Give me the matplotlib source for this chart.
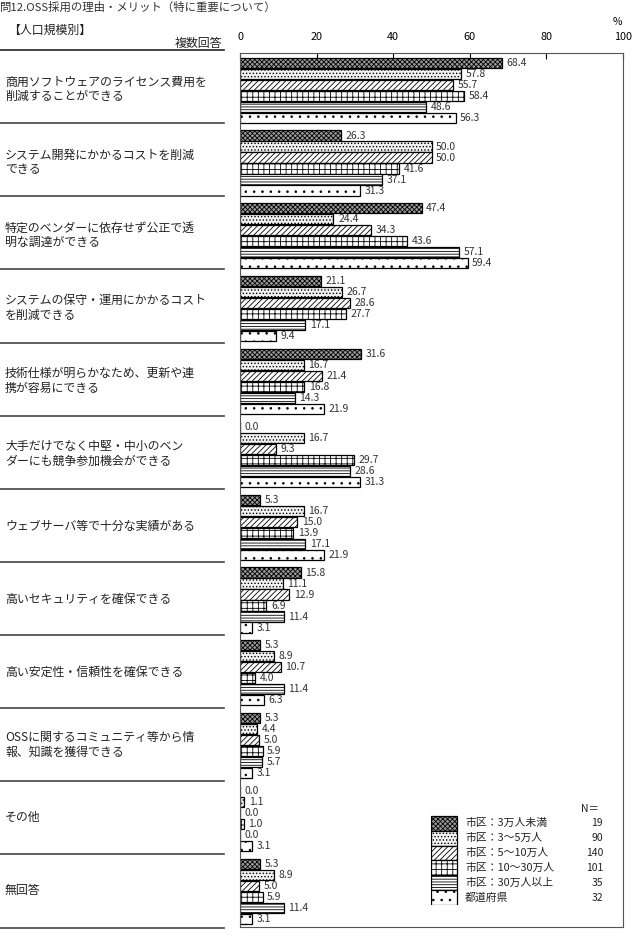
import matplotlib
matplotlib.use('Agg')
import matplotlib.pyplot as plt
import numpy as np

plt.rcParams['font.family'] = ['Noto Sans CJK JP', 'DejaVu Sans']
plt.rcParams['hatch.linewidth'] = 0.6

# 項目
items = [
    '商用ソフトウェアのライセンス費用を\n削減することができる',
    'システム開発にかかるコストを削減\nできる',
    '特定のベンダーに依存せず公正で透\n明な調達ができる',
    'システムの保守・運用にかかるコスト\nを削減できる',
    '技術仕様が明らかなため、更新や連\n携が容易にできる',
    '大手だけでなく中堅・中小のベン\nダーにも競争参加機会ができる',
    'ウェブサーバ等で十分な実績がある',
    '高いセキュリティを確保できる',
    '高い安定性・信頼性を確保できる',
    'OSSに関するコミュニティ等から情\n報、知識を獲得できる',
    'その他',
    '無回答',
]

groups = ['市区：3万人未満', '市区：3～5万人', '市区：5～10万人',
          '市区：10～30万人', '市区：30万人以上', '都道府県']
n_counts = [19, 90, 140, 101, 35, 32]

# 各グループの値 (%)
v_under3 = [68.4, 26.3, 47.4, 21.1, 31.6, 0.0, 5.3, 15.8, 5.3, 5.3, 0.0, 5.3]
v_3to5 = [57.8, 50.0, 24.4, 26.7, 16.7, 16.7, 16.7, 11.1, 8.9, 4.4, 1.1, 8.9]
v_5to10 = [55.7, 50.0, 34.3, 28.6, 21.4, 9.3, 15.0, 12.9, 10.7, 5.0, 0.0, 5.0]
v_10to30 = [58.4, 41.6, 43.6, 27.7, 16.8, 29.7, 13.9, 6.9, 4.0, 5.9, 1.0, 5.9]
v_over30 = [48.6, 37.1, 57.1, 17.1, 14.3, 28.6, 17.1, 11.4, 11.4, 5.7, 0.0, 11.4]
v_pref = [56.3, 31.3, 59.4, 9.4, 21.9, 31.3, 21.9, 3.1, 6.3, 3.1, 3.1, 3.1]
series = [v_under3, v_3to5, v_5to10, v_10to30, v_over30, v_pref]

# 塗りつぶし(ハッチ)
faces = ['#9a9a9a', '#f2f2f2', 'white', 'white', 'white', 'white']
hatches = ['xxxxxxx', '.....', '//////', '+++', '------', '..']

W, H = 637, 939
fig = plt.figure(figsize=(W / 100, H / 100), dpi=100)

top, bot = 53, 927
ax = fig.add_axes([240 / W, 1 - bot / H, (623 - 240) / W, (bot - top) / H])
ax.set_xlim(0, 100)
ax.set_ylim(12, 0)

idx = np.arange(len(items))
for j, vals in enumerate(series):
    y = idx + 0.133 + j * 0.151
    ax.barh(y, vals, height=0.14, color=faces[j], edgecolor='black',
            hatch=hatches[j], linewidth=0.9)
    for yy, v in zip(y, vals):
        ax.text(v + 1.2, yy, f'{v:.1f}', va='center', ha='left',
                fontsize=7.5, color='#333333')

ax.xaxis.tick_top()
ax.set_xticks([0, 20, 40, 60, 80, 100])
ax.tick_params(axis='x', direction='in', length=4, pad=8, labelsize=7.8)
ax.set_yticks([])
for s in ax.spines.values():
    s.set_linewidth(0.8)
    s.set_color('#555555')

# 左側の項目名
axl = fig.add_axes([0, 1 - bot / H, 224 / W, (bot - top) / H])
axl.set_xlim(0, 224)
axl.set_ylim(12, 0)
axl.axis('off')
for k in range(1, 13):
    yk = k - 0.04 + k * 0.004
    axl.plot([0, 224], [yk, yk], color='#444444', lw=1.2, clip_on=False)
axl.plot([0, 224], [-0.04, -0.04], color='#222222', lw=1.2, clip_on=False)
for i, lab in enumerate(items):
    axl.text(5, i + 0.5, lab, va='center', ha='left', fontsize=8.6,
             linespacing=1.15, color='#222222')

fig.text(0, 1 - 7 / H, '問12.OSS採用の理由・メリット（特に重要について）',
         fontsize=8.2, va='center', ha='left', color='#333333')
fig.text(8 / W, 1 - 30 / H, '【人口規模別】', fontsize=8.6, va='center',
         ha='left', color='#222222')
fig.text(222 / W, 1 - 43 / H, '複数回答', fontsize=8.6, va='center',
         ha='right', color='#222222')
fig.text(617 / W, 1 - 22 / H, '%', fontsize=7.5, va='center', ha='center')

# 凡例
axg = fig.add_axes([431 / W, 1 - 905 / H, 180 / W, 104 / H])
axg.set_xlim(0, 180)
axg.set_ylim(5.5, -1.5)
axg.axis('off')
for j in range(len(groups)):
    axg.barh(j, 26, left=0, height=1.0, color=faces[j], edgecolor='black',
             hatch=hatches[j], linewidth=0.9)
    axg.text(34, j, groups[j], va='center', ha='left', fontsize=7.8,
             color='#222222')
    axg.text(172, j, str(n_counts[j]), va='center', ha='right', fontsize=7.5,
             color='#222222')
axg.text(168, -0.95, 'N＝', va='center', ha='right', fontsize=7.5,
         color='#222222')

fig.savefig('out.png', dpi=100)
